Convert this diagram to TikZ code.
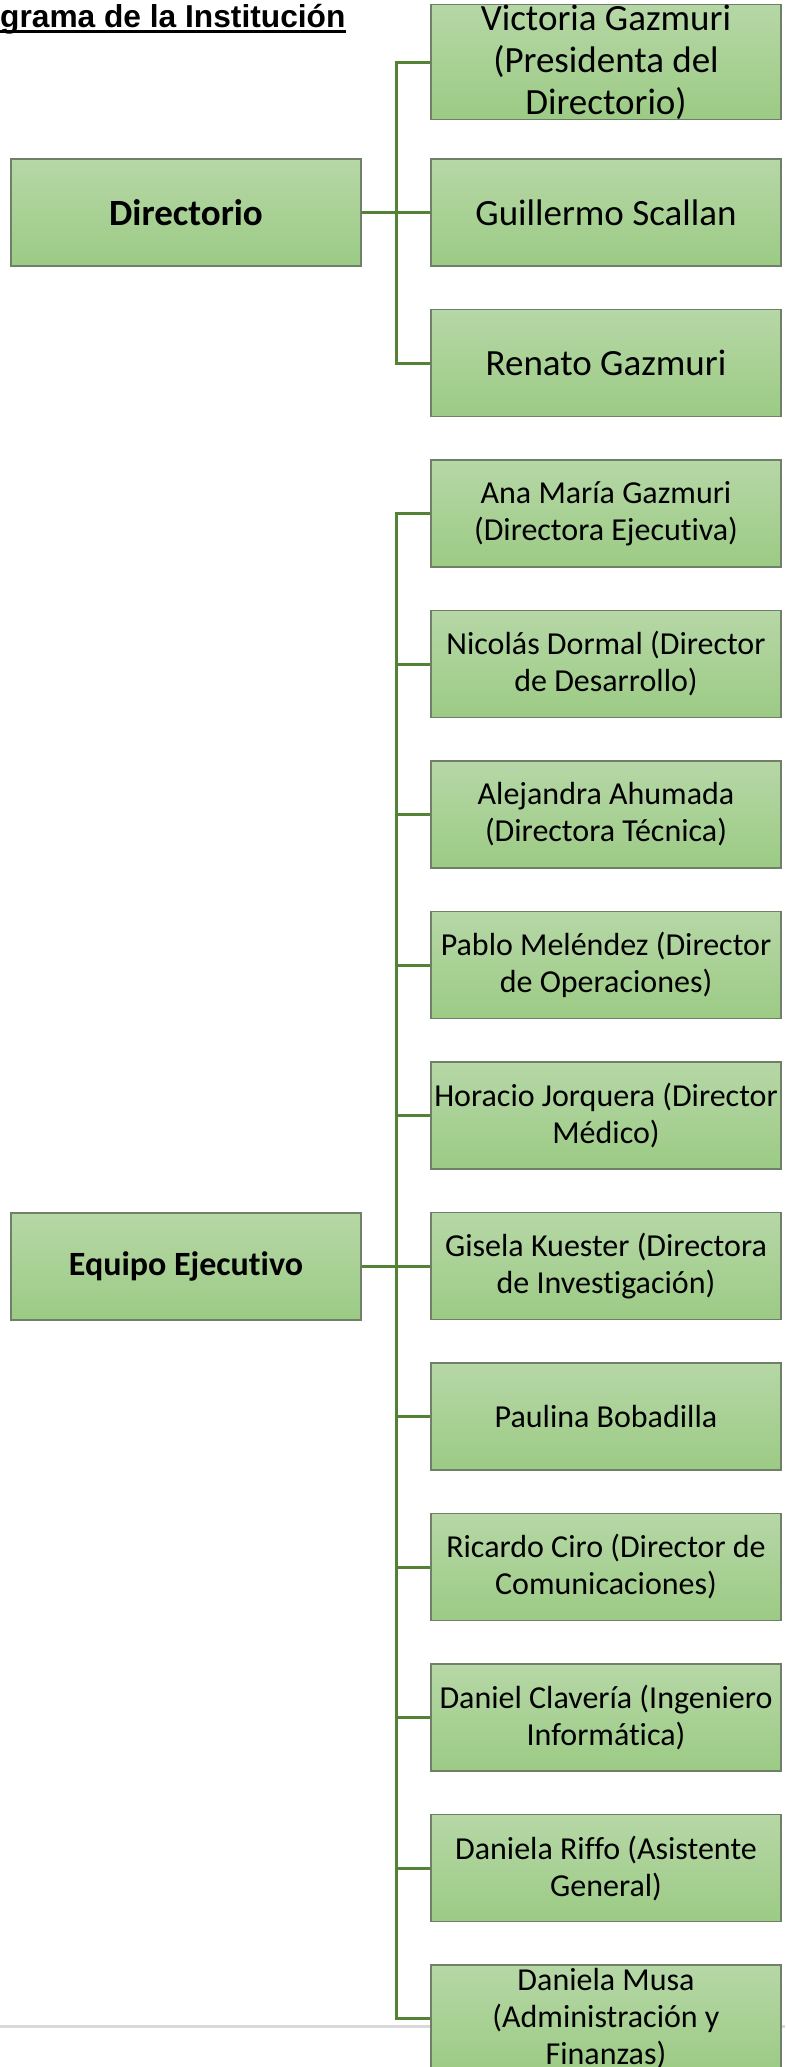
\documentclass[tikz,border=0pt]{standalone}
\usepackage{fontspec}
\setmainfont{Carlito}[Ligatures=NoCommon]
\newfontfamily\titlefont{Liberation Sans}

\definecolor{boxtop}{RGB}{182,215,166}
\definecolor{boxbottom}{RGB}{156,203,133}
\definecolor{boxline}{RGB}{112,128,104}
\definecolor{linkgreen}{RGB}{84,130,53}
\definecolor{footgray}{RGB}{217,217,217}

\begin{document}
\begin{tikzpicture}[x=1pt, y=-1pt,
    box/.style={draw=boxline, line width=1.5pt, top color=boxtop, bottom color=boxbottom,
        minimum width=350pt, minimum height=107pt, inner sep=0pt, align=center,
        font=\fontsize{32}{37}\selectfont},
    bigbox/.style={box, font=\fontsize{37}{42}\selectfont},
    headbox/.style={box, font=\bfseries\fontsize{37}{42}\selectfont},
    link/.style={draw=linkgreen, line width=3pt}]
    \useasboundingbox (0,0) rectangle (785,2067);

    % Page footer rule
    \draw[footgray, line width=3pt] (0,2026) -- (785,2026);

    % Title
    \node[anchor=base west, inner sep=0pt, font=\titlefont\bfseries\fontsize{31.7}{36}\selectfont] (title) at (0,27) {grama de la Institución};
    \draw[line width=2.5pt] ([yshift=-4.5pt]title.base west) -- ([yshift=-4.5pt]title.base east);

    % Directorio
    \node[headbox] (dir) at (186,212.5) {Directorio};
    \node[bigbox] (vic) at (606,62) {Victoria Gazmuri\\(Presidenta del\\Directorio)};
    \node[bigbox] (gui) at (606,212.5) {Guillermo Scallan};
    \node[bigbox] (ren) at (606,363) {Renato Gazmuri};

    % Equipo Ejecutivo
    \node[headbox, font=\bfseries\fontsize{34}{39}\selectfont] (eje) at (186,1266.5) {Equipo Ejecutivo};
    \node[box] (ana) at (606,513.5) {Ana María Gazmuri\\(Directora Ejecutiva)};
    \node[box] (nic) at (606,664) {Nicolás Dormal (Director\\de Desarrollo)};
    \node[box] (ale) at (606,814.5) {Alejandra Ahumada\\(Directora Técnica)};
    \node[box] (pab) at (606,965) {Pablo Meléndez (Director\\de Operaciones)};
    \node[box] (hor) at (606,1115.5) {Horacio Jorquera (Director\\Médico)};
    \node[box] (gis) at (606,1266) {Gisela Kuester (Directora\\de Investigación)};
    \node[box] (pau) at (606,1416.5) {Paulina Bobadilla};
    \node[box] (ric) at (606,1567) {Ricardo Ciro (Director de\\Comunicaciones)};
    \node[box] (dan) at (606,1717.5) {Daniel Clavería (Ingeniero\\Informática)};
    \node[box] (rif) at (606,1868) {Daniela Riffo (Asistente\\General)};
    \node[box] (mus) at (606,2018.5) {Daniela Musa\\(Administración y\\Finanzas)};

    % Connectors of the Directorio
    \coordinate (dbus) at (396,212.5);
    \draw[link] (dir.east) -- (dbus);
    \draw[link] (dbus) |- (vic.west);
    \draw[link] (dbus) -- (gui.west);
    \draw[link] (dbus) |- (ren.west);

    % Connectors of the Equipo Ejecutivo
    \coordinate (ebus) at (396,1266.5);
    \draw[link] (eje.east) -- (ebus);
    \draw[link] (ebus) |- (ana.west);
    \draw[link] (ebus) |- (nic.west);
    \draw[link] (ebus) |- (ale.west);
    \draw[link] (ebus) |- (pab.west);
    \draw[link] (ebus) |- (hor.west);
    \draw[link] (ebus) |- (gis.west);
    \draw[link] (ebus) |- (pau.west);
    \draw[link] (ebus) |- (ric.west);
    \draw[link] (ebus) |- (dan.west);
    \draw[link] (ebus) |- (rif.west);
    \draw[link] (ebus) |- (mus.west);
\end{tikzpicture}
\end{document}
